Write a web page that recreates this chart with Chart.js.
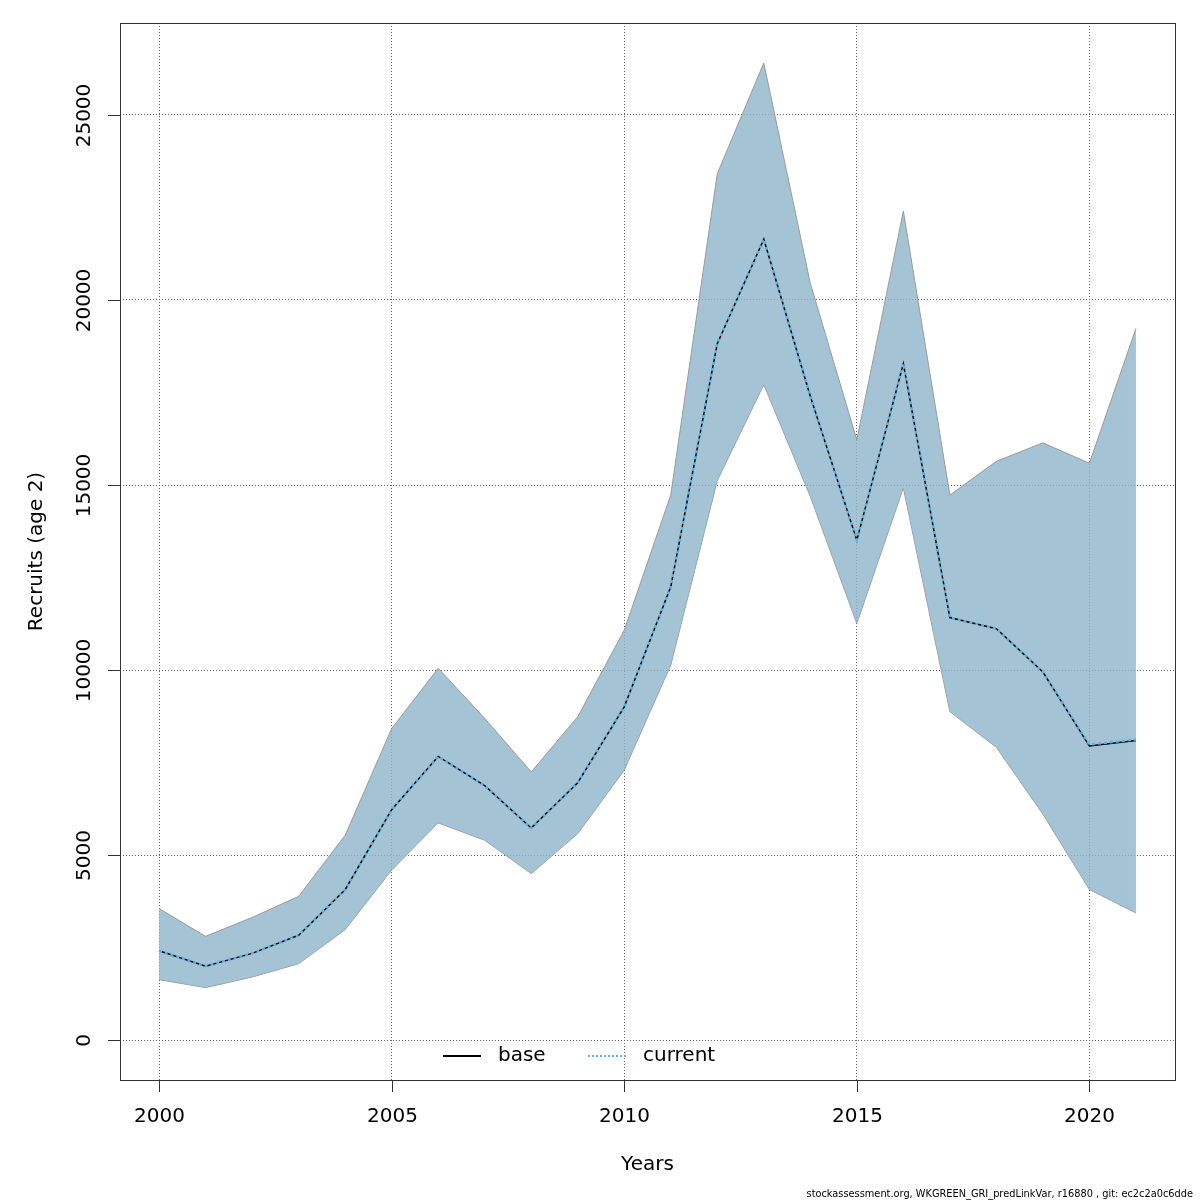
<!DOCTYPE html>
<html>
<head>
<meta charset="utf-8">
<script src="https://cdn.jsdelivr.net/npm/chart.js@4/dist/chart.umd.min.js"></script>
<style>
  body { margin: 0; background: #fff; }
  canvas { display: block; }
</style>
</head>
<body>
<canvas id="myChart" width="1200" height="1200"></canvas>
<script>
const years = [2000,2001,2002,2003,2004,2005,2006,2007,2008,2009,2010,2011,2012,2013,2014,2015,2016,2017,2018,2019,2020,2021];
const upper = [3560,2810,3320,3890,5540,8420,10050,8700,7250,8740,11080,14730,23410,26400,20450,16220,22400,14730,15640,16140,15590,19230];
const lower = [1640,1425,1710,2070,2990,4600,5875,5405,4505,5585,7300,10135,15120,17710,14690,11260,14920,8880,7915,6110,4075,3440];
const current = [2420,2005,2350,2840,4070,6230,7670,6880,5735,6960,9010,12250,18820,21640,17400,13510,18280,11420,11120,9950,7990,8130];
const base = [2420,2005,2350,2840,4070,6230,7670,6880,5735,6960,9010,12250,18820,21640,17400,13510,18280,11420,11120,9950,7950,8100];
const xTicks = [2000,2005,2010,2015,2020];
const yTicks = [0,5000,10000,15000,20000,25000];

const FONT = "'DejaVu Sans', sans-serif";
const pts = arr => years.map((y, i) => ({x: y, y: arr[i]}));

// axes, box, titles, legend and footer drawn R-style
const rAxes = {
  id: 'rAxes',
  afterDraw(chart) {
    const ctx = chart.ctx;
    const a = chart.chartArea;
    const xs = chart.scales.x, ys = chart.scales.y;
    ctx.save();
    ctx.strokeStyle = '#333';
    ctx.lineWidth = 1;
    ctx.strokeRect(Math.round(a.left) + 0.5, Math.round(a.top) + 0.5,
                   Math.round(a.right - a.left), Math.round(a.bottom - a.top));
    ctx.fillStyle = '#000';
    ctx.font = '20px ' + FONT;

    // x ticks
    ctx.textAlign = 'center';
    ctx.textBaseline = 'middle';
    xTicks.forEach(v => {
      const px = Math.round(xs.getPixelForValue(v)) + 0.5;
      ctx.beginPath();
      ctx.moveTo(px, a.bottom);
      ctx.lineTo(px, a.bottom + 12);
      ctx.stroke();
      ctx.fillText(String(v), px, a.bottom + 37);
    });

    // y ticks (rotated labels)
    yTicks.forEach(v => {
      const py = Math.round(ys.getPixelForValue(v)) + 0.5;
      ctx.beginPath();
      ctx.moveTo(a.left, py);
      ctx.lineTo(a.left - 12, py);
      ctx.stroke();
      ctx.save();
      ctx.translate(a.left - 35, py);
      ctx.rotate(-Math.PI / 2);
      ctx.fillText(String(v), 0, 0);
      ctx.restore();
    });

    // axis titles
    ctx.fillText('Years', (a.left + a.right) / 2, 1165);
    ctx.save();
    ctx.translate(37, (a.top + a.bottom) / 2);
    ctx.rotate(-Math.PI / 2);
    ctx.fillText('Recruits (age 2)', 0, 0);
    ctx.restore();

    // legend inside plot, bottom centre
    const ly = 1056;
    ctx.lineWidth = 2;
    ctx.strokeStyle = '#000';
    ctx.beginPath();
    ctx.moveTo(443, ly); ctx.lineTo(481, ly);
    ctx.stroke();
    ctx.strokeStyle = '#5fb3dc';
    ctx.setLineDash([2, 2]);
    ctx.beginPath();
    ctx.moveTo(588, ly); ctx.lineTo(626, ly);
    ctx.stroke();
    ctx.setLineDash([]);
    ctx.textAlign = 'left';
    ctx.fillText('base', 498, ly);
    ctx.fillText('current', 643, ly);

    // footer
    ctx.font = '9.8px ' + FONT;
    ctx.textAlign = 'right';
    ctx.fillText('stockassessment.org, WKGREEN_GRI_predLinkVar, r16880 , git: ec2c2a0c6dde', 1193, 1194);
    ctx.restore();
  }
};

new Chart("myChart", {
  type: "line",
  data: {
    datasets: [{
      label: 'upper',
      data: pts(upper),
      borderColor: '#9a9a9a',
      borderWidth: 1,
      backgroundColor: 'rgba(141,180,201,0.8)',
      fill: '+1',
      pointRadius: 0,
      tension: 0,
      order: 3
    }, {
      label: 'lower',
      data: pts(lower),
      borderColor: '#9a9a9a',
      borderWidth: 1,
      fill: false,
      pointRadius: 0,
      tension: 0,
      order: 3
    }, {
      label: 'base',
      data: pts(base),
      borderColor: '#000',
      borderWidth: 1.5,
      fill: false,
      pointRadius: 0,
      tension: 0,
      order: 2
    }, {
      label: 'current',
      data: pts(current),
      borderColor: '#5fb3dc',
      borderWidth: 2.5,
      borderDash: [3, 3],
      fill: false,
      pointRadius: 0,
      tension: 0,
      order: 1
    }]
  },
  options: {
    responsive: false,
    animation: false,
    devicePixelRatio: 1,
    layout: { padding: { top: 23, right: 25, left: 0, bottom: 0 } },
    plugins: {
      legend: { display: false },
      tooltip: { enabled: false },
      filler: { propagate: false }
    },
    scales: {
      x: {
        type: 'linear',
        min: 1999.16,
        max: 2021.84,
        afterBuildTicks: s => { s.ticks = xTicks.map(v => ({value: v})); },
        afterFit: s => { s.height = 120; },
        ticks: { display: false },
        border: { display: false, dash: [1, 2] },
        grid: { color: '#666', lineWidth: 1, drawTicks: false }
      },
      y: {
        type: 'linear',
        min: -1070,
        max: 27480,
        afterBuildTicks: s => { s.ticks = yTicks.map(v => ({value: v})); },
        afterFit: s => { s.width = 120; },
        ticks: { display: false },
        border: { display: false, dash: [1, 2] },
        grid: { color: '#666', lineWidth: 1, drawTicks: false }
      }
    }
  },
  plugins: [rAxes]
});
</script>
</body>
</html>
